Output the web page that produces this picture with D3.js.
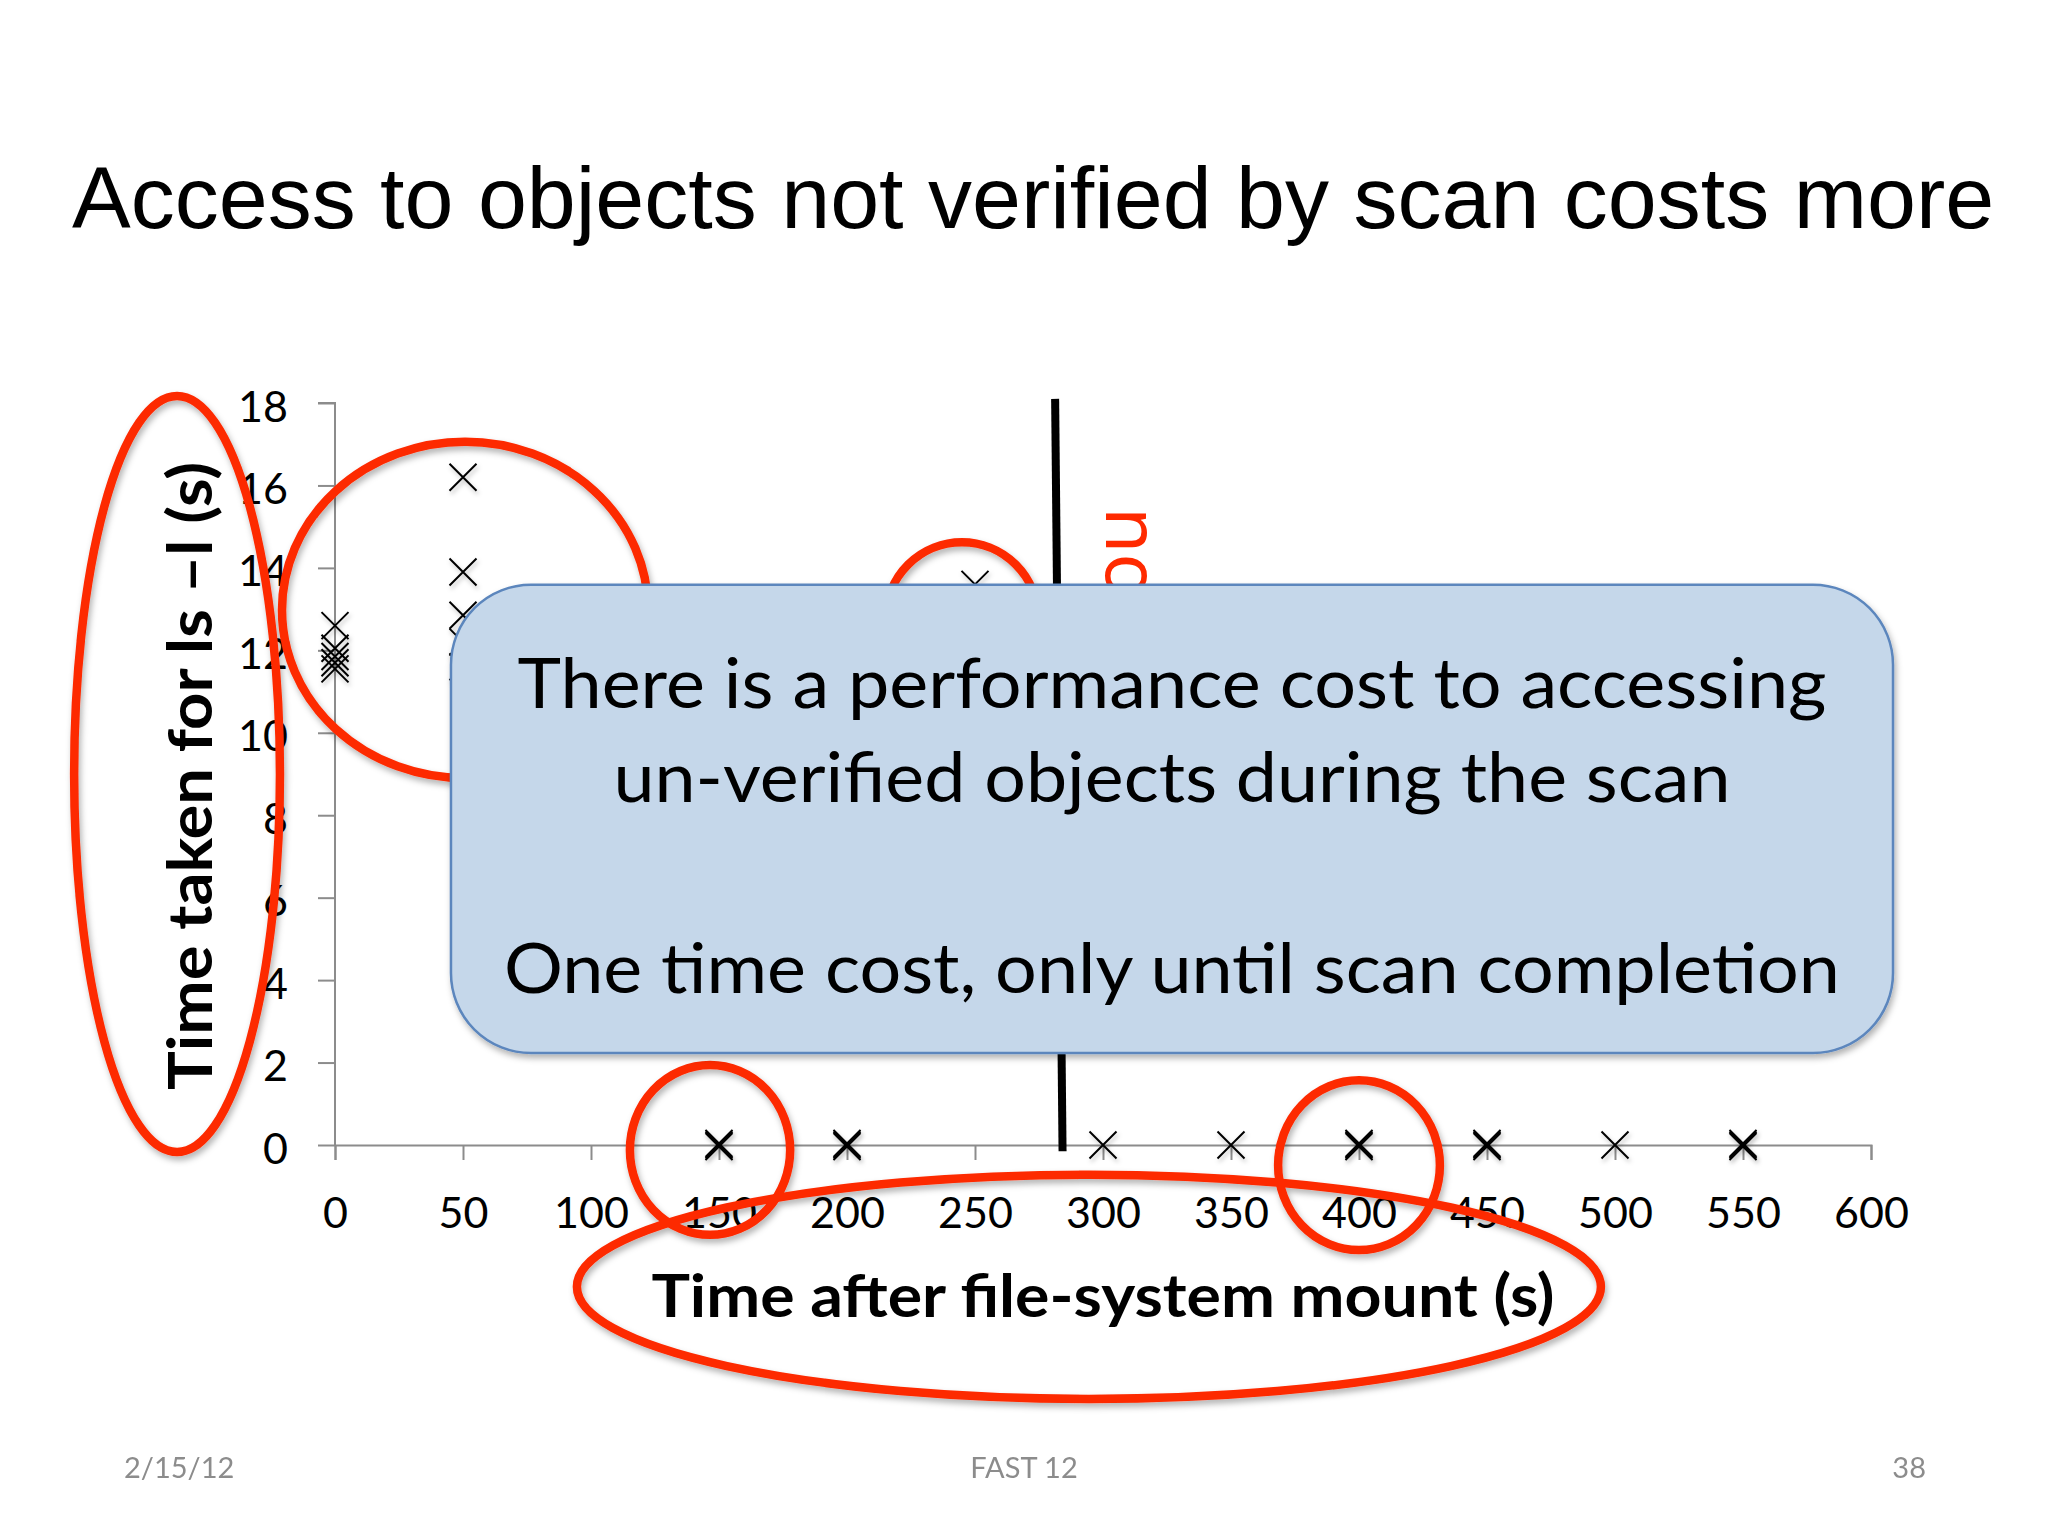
<!DOCTYPE html>
<html>
<head>
<meta charset="utf-8">
<script src="https://cdn.jsdelivr.net/npm/d3@7/dist/d3.min.js"></script>
<style>
  html, body { margin: 0; padding: 0; background: #ffffff; }
  svg { display: block; }
</style>
</head>
<body>
<script>
// ---------- data ----------
const titleText = "Access to objects not verified by scan costs more";
const xTickValues = [0, 50, 100, 150, 200, 250, 300, 350, 400, 450, 500, 550, 600];
const yTickValues = [0, 2, 4, 6, 8, 10, 12, 14, 16, 18];
const xLabel = "Time after file-system mount (s)";
const yLabel = "Time taken for ls \u2013l (s)";

// measurements: time after mount (s)
const pointTimes = [0, 0, 0, 0, 0,
                    50, 50, 50, 50, 50,
                    250,
                    150, 150, 150, 200, 200, 200, 300, 350, 400, 400, 400,
                    450, 450, 450, 500, 550, 550, 550];
// measurements: time taken for ls -l (s)
const pointCosts = [12.6, 12.05, 11.85, 11.7, 11.55,
                    16.2, 13.9, 12.85, 12.2, 11.6,
                    13.6,
                    0, 0.04, -0.04, 0, 0.04, -0.04, 0, 0, 0, 0.04, -0.04,
                    0, 0.04, -0.04, 0, 0, 0.04, -0.04];

// scan-completion marker line (data units)
const scanLineX = [281.3, 284.2];
const scanLineY = [18.1, -0.15];
const scanLabel = "no more cost";

// red highlight ellipses (data units): centre x, centre y, radius x, radius y
const ringCx = [-61.7, 50.8, 244.9, 146.5, 400.0, 294.5];
const ringCy = [9.0, 12.98, 12.78, -0.12, -0.49, -3.44];
const ringRx = [40.2, 71.5, 29.7, 31.3, 31.6, 200.0];
const ringRy = [9.17, 4.08, 1.84, 2.06, 2.06, 2.72];

// callout box extents (data units)
const calloutX = [45.3, 608.6];
const calloutY = [13.59, 2.23];
const calloutLines = ["There is a performance cost to accessing",
                      "un-verified objects during the scan",
                      "One time cost, only until scan completion"];

const footerLeft = "2/15/12";
const footerMid = "FAST 12";
const footerRight = "38";

// ---------- layout ----------
const W = 2048, H = 1536;
const x = d3.scaleLinear().domain([0, 600]).range([335, 1871]);
const y = d3.scaleLinear().domain([0, 18]).range([1145, 403]);

const svg = d3.select("body").append("svg")
  .attr("width", W).attr("height", H)
  .attr("viewBox", `0 0 ${W} ${H}`);

svg.append("rect").attr("width", W).attr("height", H).attr("fill", "#ffffff");

const defs = svg.append("defs");
const f1 = defs.append("filter").attr("id", "shadow").attr("x", "-20%").attr("y", "-20%")
  .attr("width", "140%").attr("height", "140%");
f1.append("feDropShadow").attr("dx", 2).attr("dy", 4).attr("stdDeviation", 3)
  .attr("flood-color", "#000").attr("flood-opacity", 0.3);
const f2 = defs.append("filter").attr("id", "shadowSmall").attr("x", "-50%").attr("y", "-50%")
  .attr("width", "200%").attr("height", "200%");
f2.append("feDropShadow").attr("dx", 1.5).attr("dy", 3).attr("stdDeviation", 2)
  .attr("flood-color", "#000").attr("flood-opacity", 0.25);

// title
svg.append("text")
  .attr("x", 72).attr("y", 228)
  .attr("font-family", "'Liberation Sans', Arial, sans-serif")
  .attr("font-size", 88)
  .attr("fill", "#000")
  .text(titleText);

// axes
const axisColor = "#8c8c8c";
const yAxis = d3.axisLeft(y).tickValues(yTickValues).tickSize(17).tickPadding(30);
const xAxis = d3.axisBottom(x).tickValues(xTickValues).tickSize(15).tickPadding(37);

const gy = svg.append("g").attr("transform", `translate(${x(0)},0)`).call(yAxis);
const gx = svg.append("g").attr("transform", `translate(0,${y(0)})`).call(xAxis);
[gx, gy].forEach(g => {
  g.select(".domain").attr("stroke", axisColor).attr("stroke-width", 2);
  g.selectAll(".tick line").attr("stroke", axisColor).attr("stroke-width", 2);
  g.selectAll(".tick text")
    .attr("font-family", "Lato, 'Open Sans', sans-serif")
    .attr("font-size", 43)
    .attr("fill", "#000");
});
gy.select(".domain").attr("d", `M-17,${y(18)}H0V${y(0)}`);
gy.selectAll(".tick text").attr("dy", "0.42em");

// axis titles
svg.append("text")
  .attr("x", (x(0) + x(600)) / 2).attr("y", 1317)
  .attr("text-anchor", "middle")
  .attr("font-family", "Lato, sans-serif").attr("font-weight", 700)
  .attr("font-size", 60)
  .attr("textLength", 903).attr("lengthAdjust", "spacingAndGlyphs")
  .text(xLabel);

svg.append("text")
  .attr("transform", `translate(212,${(y(0) + y(18)) / 2 + 2}) rotate(-90)`)
  .attr("text-anchor", "middle")
  .attr("font-family", "Lato, sans-serif").attr("font-weight", 700)
  .attr("font-size", 62)
  .attr("textLength", 628).attr("lengthAdjust", "spacingAndGlyphs")
  .text(yLabel);

// points
const pts = pointTimes.map((t, i) => ({ t, c: pointCosts[i] }));
const m = 13.5;
svg.append("g").attr("filter", "url(#shadowSmall)")
  .selectAll("path").data(pts).join("path")
  .attr("transform", d => `translate(${x(d.t)},${y(d.c)})`)
  .attr("d", `M${-m},${-m}L${m},${m}M${-m},${m}L${m},${-m}`)
  .attr("stroke", "#000").attr("stroke-width", 2).attr("fill", "none");

// scan completion line
svg.append("line")
  .attr("x1", x(scanLineX[0])).attr("y1", y(scanLineY[0]))
  .attr("x2", x(scanLineX[1])).attr("y2", y(scanLineY[1]))
  .attr("stroke", "#000").attr("stroke-width", 8);

svg.append("text")
  .attr("transform", `translate(1106,507) rotate(90)`)
  .attr("font-family", "'Noto Sans', sans-serif")
  .attr("font-size", 75)
  .attr("fill", "#ff2a00")
  .text(scanLabel);

// red rings
const rings = ringCx.map((cx, i) => ({ cx, cy: ringCy[i], rx: ringRx[i], ry: ringRy[i] }));
svg.append("g").attr("filter", "url(#shadow)")
  .selectAll("ellipse").data(rings).join("ellipse")
  .attr("cx", d => x(d.cx)).attr("cy", d => y(d.cy))
  .attr("rx", d => x(d.rx) - x(0)).attr("ry", d => y(0) - y(d.ry))
  .attr("fill", "none").attr("stroke", "#fd2a05").attr("stroke-width", 8.5);

// callout
const bx0 = x(calloutX[0]), bx1 = x(calloutX[1]);
const by0 = y(calloutY[0]), by1 = y(calloutY[1]);
svg.append("rect")
  .attr("x", bx0).attr("y", by0)
  .attr("width", bx1 - bx0).attr("height", by1 - by0)
  .attr("rx", 80).attr("ry", 80)
  .attr("fill", "#c5d7ea").attr("stroke", "#5b86bd").attr("stroke-width", 2.5)
  .attr("filter", "url(#shadow)");

const bcx = (bx0 + bx1) / 2;
const lineY = [708, 802, 993];
const lineLen = [1309, 1117, 1336];
svg.append("g").selectAll("text").data(calloutLines).join("text")
  .attr("x", bcx).attr("y", (d, i) => lineY[i])
  .attr("text-anchor", "middle")
  .attr("font-family", "Lato, sans-serif")
  .attr("font-size", 69)
  .attr("textLength", (d, i) => lineLen[i]).attr("lengthAdjust", "spacingAndGlyphs")
  .attr("fill", "#000")
  .text(d => d);

// footer
const footer = svg.append("g")
  .attr("font-family", "Lato, sans-serif").attr("font-size", 29).attr("fill", "#8c8c8c");
footer.append("text").attr("x", 124).attr("y", 1478).text(footerLeft);
footer.append("text").attr("x", 1024).attr("y", 1478).attr("text-anchor", "middle").text(footerMid);
footer.append("text").attr("x", 1926).attr("y", 1478).attr("text-anchor", "end").text(footerRight);
</script>
</body>
</html>
